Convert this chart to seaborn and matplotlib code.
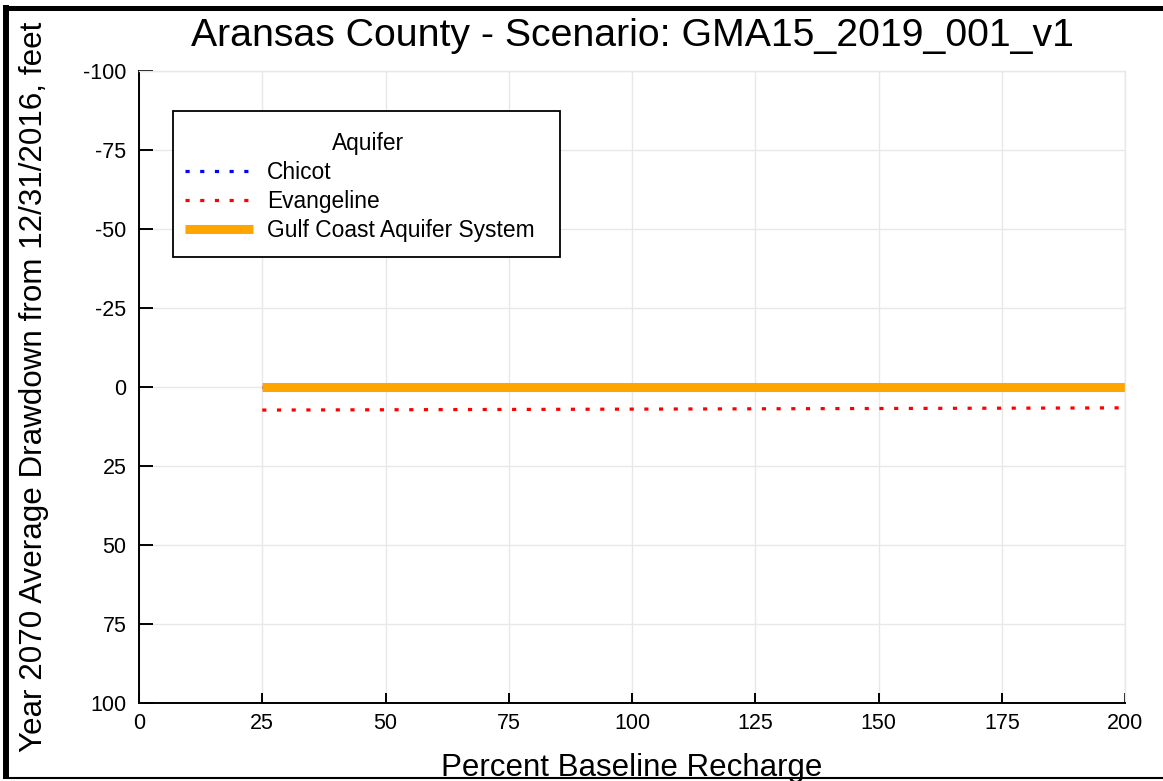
import matplotlib
matplotlib.use("Agg")
import matplotlib.pyplot as plt
import seaborn as sns
import pandas as pd
from matplotlib.lines import Line2D
from matplotlib.patches import Rectangle
from matplotlib.transforms import Affine2D

# Drawdown (feet) by percent of baseline recharge, per aquifer
recharge_pct = [25, 50, 75, 100, 125, 150, 175, 200]
chicot = [0.0, 0.0, 0.0, 0.0, 0.0, 0.0, 0.0, 0.0]
evangeline = [7.3, 7.2, 7.1, 7.0, 6.9, 6.8, 6.7, 6.6]
gulf_coast = [0.0, 0.0, 0.0, 0.0, 0.0, 0.0, 0.0, 0.0]

x_ticks = [0, 25, 50, 75, 100, 125, 150, 175, 200]
y_ticks = [-100, -75, -50, -25, 0, 25, 50, 75, 100]

title = "Aransas County - Scenario: GMA15_2019_001_v1"
x_label = "Percent Baseline Recharge"
y_label = "Year 2070 Average Drawdown from 12/31/2016, feet"

sns.set_theme(style="whitegrid")
plt.rcParams['font.family'] = ['Liberation Sans', 'DejaVu Sans']

W, H = 1163, 781
fig = plt.figure(figsize=(W / 100, H / 100), dpi=100)
ax_l, ax_r, ax_t, ax_b = 139, 1125, 71, 703
ax = fig.add_axes([ax_l / W, 1 - ax_b / H, (ax_r - ax_l) / W, (ax_b - ax_t) / H])
ax.set_facecolor("white")

def ax_x(px):
    return (px - ax_l) / (ax_r - ax_l)

def ax_y(py):
    return (ax_b - py) / (ax_b - ax_t)

df = pd.DataFrame({"pct": recharge_pct, "Chicot": chicot,
                   "Evangeline": evangeline, "Gulf": gulf_coast})

sns.lineplot(data=df, x="pct", y="Chicot", ax=ax, color="#0000ff",
             linewidth=2.3, label="Chicot")
sns.lineplot(data=df, x="pct", y="Evangeline", ax=ax, color="#ff0000",
             linewidth=2.3, label="Evangeline")
sns.lineplot(data=df, x="pct", y="Gulf", ax=ax, color="#ffa500",
             linewidth=6.5, label="Gulf Coast Aquifer System")

lines = ax.get_lines()
for ln in lines[:2]:
    ln.set_dashes((1.3, 3.3))
    ln.set_dash_capstyle("butt")
lines[2].set_solid_capstyle("butt")

ax.set_xlim(0, 200)
ax.set_ylim(100, -100)
ax.set_xticks(x_ticks)
ax.set_yticks(y_ticks)
ax.set_xticklabels([str(v) for v in x_ticks])
ax.set_yticklabels([str(v) for v in y_ticks])

ax.grid(True, color="#e8e8e8", linewidth=1.0)
for side in ("left", "bottom"):
    ax.spines[side].set_color("black")
    ax.spines[side].set_linewidth(1.4)
for side in ("top", "right"):
    ax.spines[side].set_color("#e8e8e8")
    ax.spines[side].set_linewidth(1.0)

ax.tick_params(axis="both", direction="in", width=1.4,
               color="black", labelsize=15.5, labelcolor="black")
ax.tick_params(axis="y", length=10, pad=9)
ax.tick_params(axis="x", length=7.5, pad=7)
ax.tick_params(top=False, right=False, bottom=True, left=True)

ax.set_xlabel(x_label, fontsize=22.5, color="black", va="top")
ax.xaxis.set_label_coords(0.5, ax_y(753))
ax.set_ylabel(y_label, fontsize=22.6, color="black")
ax.yaxis.set_label_coords(ax_x(49), 0.5)
ax.set_title(title, fontsize=28.3, pad=18, color="black")

# Legend entries, with a plain square frame around them
leg = ax.legend(title="Aquifer", loc="upper left",
                bbox_to_anchor=(ax_x(185), ax_y(132)), fontsize=16.4,
                title_fontsize=16.4, frameon=False,
                handlelength=3.0, handletextpad=0.6, labelspacing=0.27,
                borderpad=0, borderaxespad=0)
for t in leg.get_texts():
    t.set_color("black")
leg_title = leg.get_title()
leg_title.set_color("black")
# centre the title over the frame rather than over the entries
leg_title.set_transform(leg_title.get_transform() + Affine2D().translate(8, 0))
leg_lines = leg.get_lines()
for ln in leg_lines[:2]:
    ln.set_dashes((1.3, 3.3))
    ln.set_linewidth(2.3)
leg_lines[2].set_linewidth(6.5)
ax.add_patch(Rectangle((ax_x(173), ax_y(257)), ax_x(560) - ax_x(173),
                       ax_y(111) - ax_y(257), transform=ax.transAxes,
                       facecolor="white", edgecolor="black", linewidth=1.3,
                       zorder=4.5))

# Frame around the figure
fig.add_artist(Line2D([3 / W, 1], [1 - 7.5 / H, 1 - 7.5 / H],
                      transform=fig.transFigure, color="black", linewidth=3.6,
                      solid_capstyle="butt"))
fig.add_artist(Line2D([6 / W, 6 / W], [1 - 5 / H, 1 - 779 / H],
                      transform=fig.transFigure, color="black", linewidth=4.3,
                      solid_capstyle="butt"))
fig.add_artist(Line2D([3 / W, 1], [1 - 778 / H, 1 - 778 / H],
                      transform=fig.transFigure, color="black", linewidth=1.5,
                      solid_capstyle="butt"))

fig.savefig("out.png", dpi=100, facecolor="white")
